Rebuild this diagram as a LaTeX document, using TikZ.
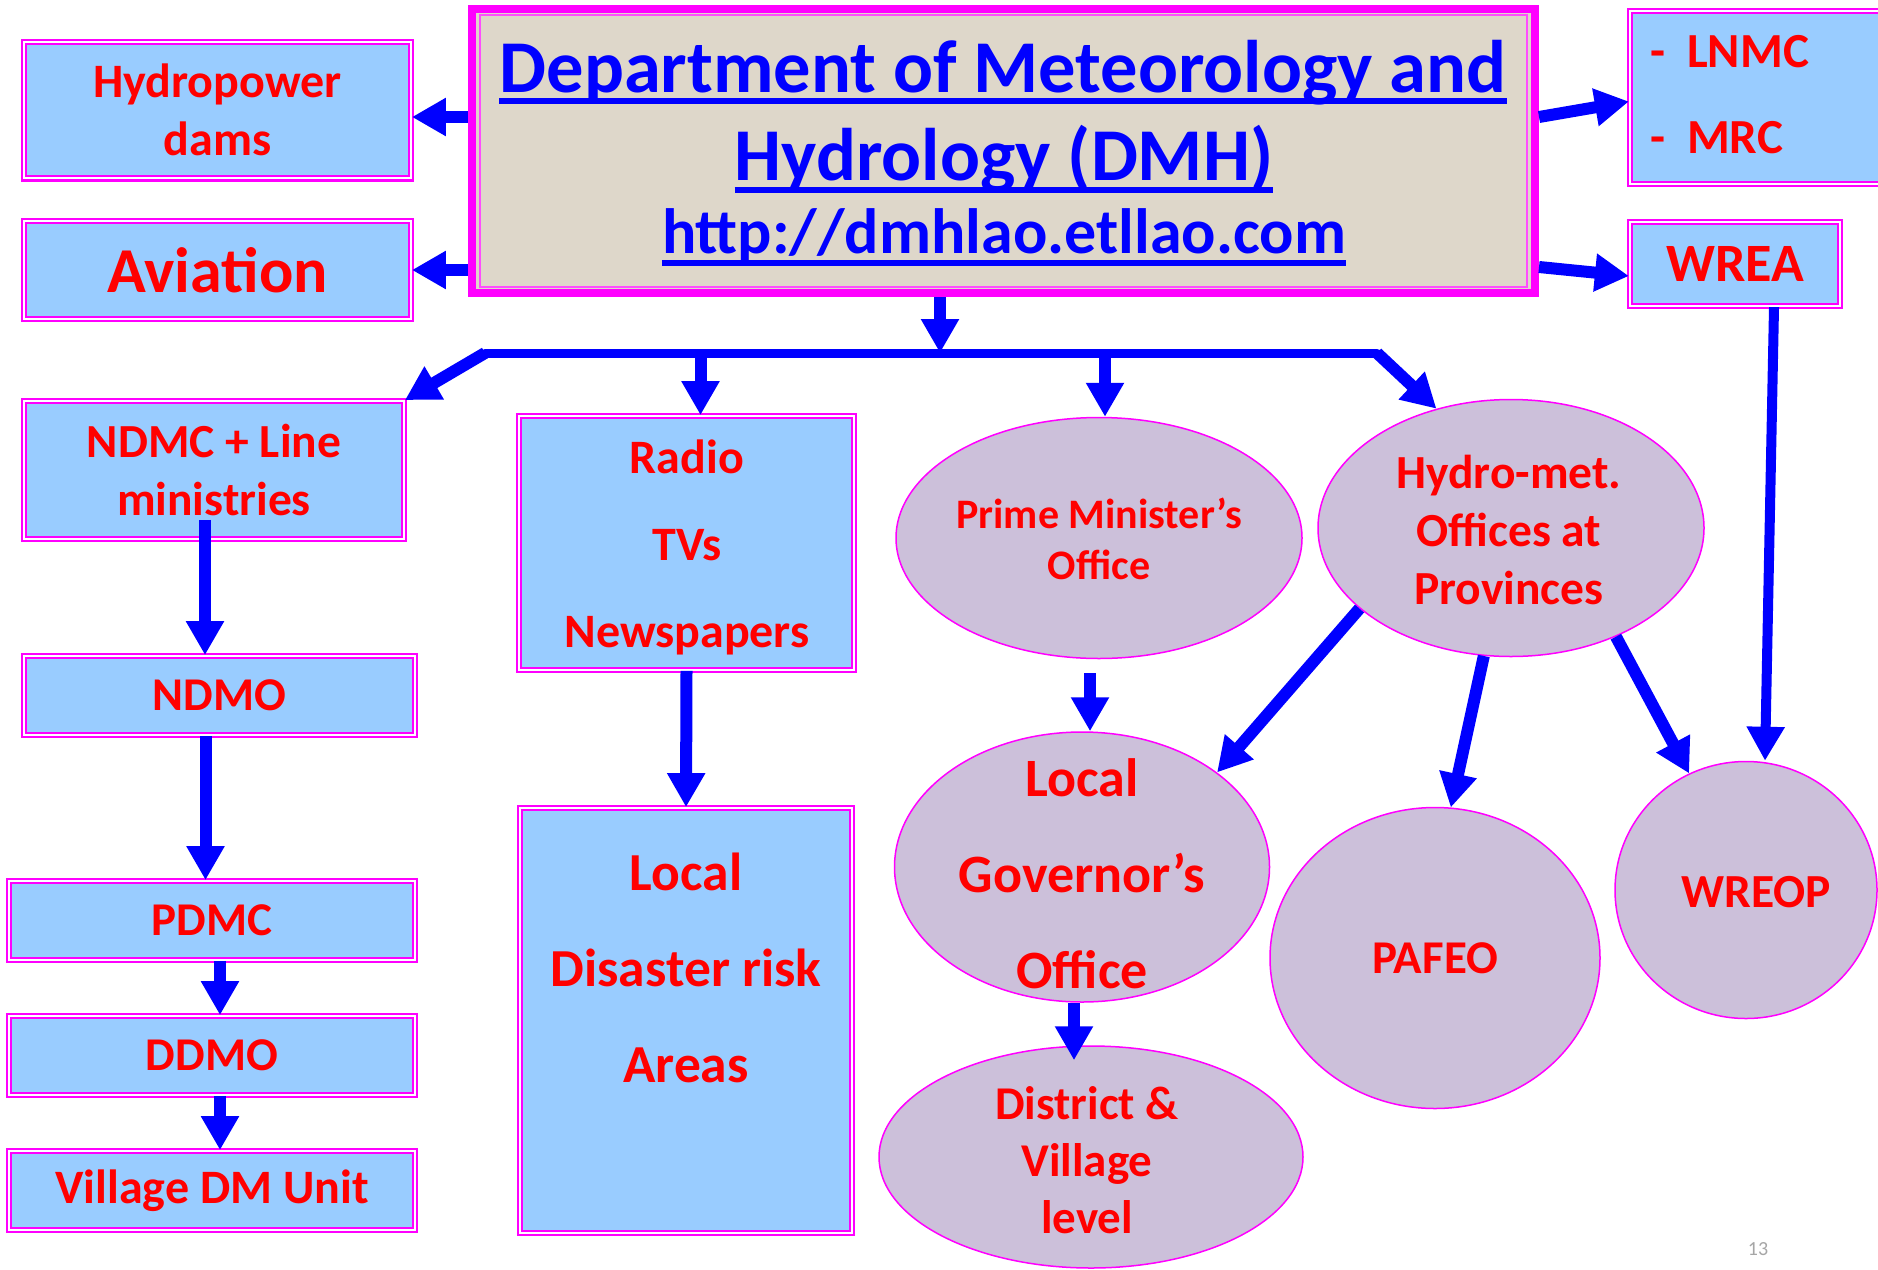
\documentclass[tikz,border=0pt]{standalone}
\usepackage{fontspec}
\setmainfont{Carlito}
\usetikzlibrary{arrows.meta,calc,shapes.geometric}
\definecolor{boxblue}{RGB}{153,204,255}
\definecolor{mag}{RGB}{255,0,255}
\definecolor{lav}{RGB}{204,192,218}
\definecolor{beige}{RGB}{222,215,202}
\definecolor{txtred}{RGB}{255,0,0}
\definecolor{arrblue}{RGB}{0,0,255}
\newcommand{\myF}[2]{\fontsize{#1}{#2}\selectfont\bfseries}
\begin{document}
\begin{tikzpicture}[x=1pt,y=-1pt,
  bluebox/.style={rectangle, fill=boxblue, draw=mag, double=white, line width=2.2pt, double distance=2pt, inner sep=0pt, text=txtred, align=center},
  oval/.style={ellipse, fill=lav, draw=mag, line width=1.5pt, inner sep=0pt},
  txt/.style={text=txtred, align=center, inner sep=0pt},
  dmhtext/.style={text=arrblue, inner sep=0pt, anchor=base},
  arr/.style={draw=arrblue, line width=12pt, -{Triangle[width=36pt,length=34pt]}},
  busline/.style={draw=arrblue, line width=9pt}]
\useasboundingbox (0,0) rectangle (1878,1269);
\fill[white] (0,0) rectangle (1878,1269);

% ---- top boxes
\node[bluebox, minimum width=386.6pt, minimum height=136.6pt, font=\myF{48}{58}] (hydro) at (217.5,110) {Hydropower\\dams};
\node[bluebox, minimum width=386.6pt, minimum height=97.6pt, font=\myF{64}{70}] (avia) at (217.5,270) {Aviation};

\node[rectangle, fill=beige, draw=mag, line width=8pt, minimum width=1063pt, minimum height=284pt, inner sep=0pt] (dmh) at (1003.5,151) {};
\draw[mag!70, line width=1.5pt] ($(dmh.north west)+(12,10)$) rectangle ($(dmh.south east)+(-12,-10)$);
\node[dmhtext, font=\myF{74.5}{75}] (dmh1) at (1003,92) {Department of Meteorology and};
\node[dmhtext, font=\myF{74.5}{75}] (dmh2) at (1004,180) {Hydrology (DMH)};
\node[dmhtext, font=\myF{64}{64}] (dmh3) at (1004,253) {http://dmhlao.etllao.com};
\draw[arrblue, line width=6pt] ($(dmh1.base west)+(0,9)$) -- ($(dmh1.base east)+(0,9)$);
\draw[arrblue, line width=6pt] ($(dmh2.base west)+(0,10)$) -- ($(dmh2.base east)+(0,10)$);
\draw[arrblue, line width=6pt] ($(dmh3.base west)+(0,10)$) -- ($(dmh3.base east)+(0,10)$);

\node[bluebox, minimum width=260pt, minimum height=173pt] (lnmc) at (1760,97.5) {};
\node[txt, align=left, anchor=west, font=\myF{49}{86}] (lnmct) at (1650,95) {-\hspace{22pt}LNMC\\-\hspace{22pt}MRC};
\node[bluebox, minimum width=210pt, minimum height=84pt, font=\myF{54}{60}] (wrea) at (1735,264) {WREA};

% ---- left column
\node[bluebox, minimum width=379.6pt, minimum height=137.6pt, font=\myF{47.5}{58}] (ndmc) at (214,470) {NDMC + Line\\ministries};
\node[bluebox, minimum width=390.6pt, minimum height=78.6pt, font=\myF{47}{50}] (ndmo) at (219.5,695.5) {NDMO};
\node[bluebox, minimum width=405.6pt, minimum height=78.6pt, font=\myF{47}{50}] (pdmc) at (212,920.5) {PDMC};
\node[bluebox, minimum width=405.6pt, minimum height=78.6pt, font=\myF{47}{50}] (ddmo) at (212,1055.5) {DDMO};
\node[bluebox, minimum width=405.6pt, minimum height=78.6pt, font=\myF{48}{50}] (vill) at (212,1190.5) {Village DM Unit};

% ---- media column
\node[bluebox, minimum width=334.6pt, minimum height=253.6pt] (radio) at (686.5,543) {};
\node[txt, font=\myF{48}{87}] (radiot) at (687,547) {Radio\\TVs\\Newspapers};
\node[bluebox, minimum width=331.6pt, minimum height=424.6pt] (ldr) at (686,1020.5) {};
\node[txt, font=\myF{53.5}{96}] (ldrt) at (686,968) {Local\\Disaster risk\\Areas};

% ---- ellipses
\node[oval, minimum width=406pt, minimum height=241pt] (pm) at (1099,538) {};
\node[txt, font=\myF{42}{51}] (pmt) at (1099,539) {Prime Minister’s\\Office};
\node[oval, minimum width=386pt, minimum height=257pt] (hm) at (1511,528) {};
\node[txt, font=\myF{47.5}{58}] (hmt) at (1509,530) {Hydro-met.\\Offices at\\Provinces};
\node[oval, minimum width=375pt, minimum height=270pt] (lg) at (1082,867) {};
\node[txt, font=\myF{54}{96}] (lgt) at (1082,874) {Local\\Governor’s\\Office};
\node[oval, minimum width=424pt, minimum height=222pt] (dv) at (1091,1157) {};
\node[txt, font=\myF{47}{57}] (dvt) at (1087,1160) {District \&\\Village\\level};
\node[oval, minimum width=330pt, minimum height=301pt] (pafeo) at (1435,958) {};
\node[txt, font=\myF{47}{50}] (pafeot) at (pafeo) {PAFEO};
\node[oval, minimum width=262pt, minimum height=257pt] (wreop) at (1746,890) {};
\node[txt, font=\myF{47.5}{50}] (wreopt) at (1756,892) {WREOP};

\node[text=gray!70, inner sep=0pt, font=\fontsize{20}{20}\selectfont] (pg) at (1758,1249) {13};

% ---- connectors
\coordinate (busL) at (485,353);
\coordinate (busR) at (1377,353);
\coordinate (busM) at (940,353);
\draw[arr] ($(dmh.west|-hydro.east)+(0,7)$) -- ($(hydro.east)+(0,7)$);
\draw[arr] (dmh.west|-avia.east) -- (avia.east);
\draw[arr] ($(dmh.east)+(0,-34)$) -- ($(lnmc.west)+(0,4)$);
\draw[arr] ($(dmh.east)+(0,116)$) -- ($(wrea.west)+(0,12)$);
\draw[arr] (dmh.south -| busM) -- (busM);
\draw[busline, line cap=round] (busL) -- (busR);
\draw[arr] (busL) -- (ndmc.north east);
\coordinate (rt) at ($(radio.north)+(14,0)$);
\draw[arr] (busL -| rt) -- (rt);
\coordinate (pt) at ($(pm.north)+(6,0)$);
\draw[arr] (busL -| pt) -- (pt);
\draw[arr] (busR) -- (hm.122);

\coordinate (a1) at ($(ndmc.south)+(-9,-20)$);
\draw[arr] (a1) -- (a1 |- ndmo.north);
\coordinate (a2) at ($(ndmo.south)+(-14,0)$);
\draw[arr] (a2) -- (a2 |- pdmc.north);
\coordinate (a3) at ($(pdmc.south)+(8,0)$);
\draw[arr] (a3) -- (a3 |- ddmo.north);
\coordinate (a4) at ($(ddmo.south)+(8,0)$);
\draw[arr] (a4) -- (a4 |- vill.north);

\draw[arr] (radio.south) -- (ldr.north);

\coordinate (a5) at ($(pm.south)+(-9,14)$);
\draw[arr] (a5) -- (a5 |- lg.north);
\draw[arr] (hm.208) -- (lg.35);
\draw[arr] (hm.258) -- (pafeo.84);
\draw[arr] (hm.314) -- (wreop.116);
\draw[arr, line width=10pt] ($(wrea.south)+(39,0)$) -- ($(wreop.north)+(19,0)$);
\draw[arr] ($(lg.south)+(-8,0)$) -- ($(dv.north)+(-17,15)$);
\end{tikzpicture}
\end{document}
